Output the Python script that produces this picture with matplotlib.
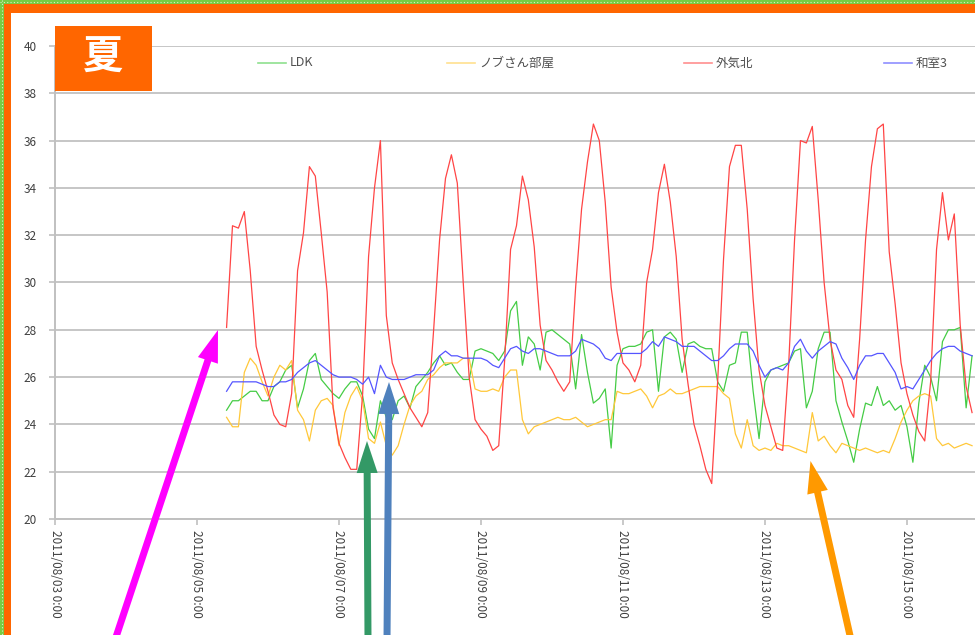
import numpy as np
import matplotlib
matplotlib.use('Agg')
import matplotlib.pyplot as plt
import matplotlib.dates as mdates
from matplotlib.patches import Rectangle, FancyArrow
from matplotlib.lines import Line2D
from matplotlib.ticker import FuncFormatter

plt.rcParams['font.family'] = ['Noto Sans CJK JP', 'DejaVu Sans']

# ---------------- data (2-hourly readings from 2011/08/05 10:00) ----------------
series_names = ['LDK', 'ノブさん部屋', '外気北', '和室3']
start_time = np.datetime64('2011-08-05T10:00')
step_hours = 2

ldk = [24.6, 25.0, 25.0, 25.2, 25.4, 25.4, 25.0,
       25.0, 25.6, 25.8, 26.3, 26.5, 24.7, 25.5, 26.7, 27.0, 25.9, 25.6, 25.3,
       25.1, 25.5, 25.8, 25.8, 25.2, 23.8, 23.4, 25.0, 24.3, 24.2, 25.0, 25.2,
       24.7, 25.6, 25.9, 26.2, 26.6, 26.9, 26.5, 26.6, 26.2, 25.9, 25.9, 27.1,
       27.2, 27.1, 27.0, 26.7, 27.1, 28.8, 29.2, 26.5, 27.7, 27.4, 26.3, 27.9,
       28.0, 27.8, 27.6, 27.4, 25.5, 27.8, 26.2, 24.9, 25.1, 25.5, 23.0, 26.5,
       27.2, 27.3, 27.3, 27.4, 27.9, 28.0, 25.4, 27.7, 27.9, 27.6, 26.2, 27.4,
       27.5, 27.3, 27.2, 27.2, 25.8, 25.4, 26.5, 26.6, 27.9, 27.9, 25.4, 23.4,
       25.8, 26.3, 26.4, 26.5, 26.6, 27.1, 27.2, 24.7, 25.4, 27.2, 27.9, 27.9,
       25.0, 24.1, 23.3, 22.4, 23.8, 24.9, 24.8, 25.6, 24.8, 25.0, 24.6, 24.8,
       23.9, 22.4, 24.9, 26.5, 26.0, 25.0, 27.5, 28.0, 28.0, 28.1, 24.7, 26.9]

nobu = [24.3, 23.9, 23.9, 26.2, 26.8, 26.5, 25.8,
        25.2, 26.0, 26.5, 26.3, 26.7, 24.6, 24.2, 23.3, 24.6, 25.0, 25.1, 24.8,
        23.1, 24.5, 25.2, 25.6, 25.0, 23.4, 23.2, 24.1, 23.1, 22.7, 23.1, 24.0,
        24.8, 25.2, 25.4, 25.9, 26.1, 26.4, 26.6, 26.6, 26.6, 26.8, 26.8, 25.5,
        25.4, 25.4, 25.5, 25.4, 26.0, 26.3, 26.3, 24.2, 23.6, 23.9, 24.0, 24.1,
        24.2, 24.3, 24.2, 24.2, 24.3, 24.1, 23.9, 24.0, 24.1, 24.2, 24.2, 25.4,
        25.3, 25.3, 25.4, 25.5, 25.2, 24.7, 25.2, 25.3, 25.5, 25.3, 25.3, 25.4,
        25.5, 25.6, 25.6, 25.6, 25.6, 25.3, 25.1, 23.6, 23.0, 24.2, 23.1, 22.9,
        23.0, 22.9, 23.2, 23.1, 23.1, 23.0, 22.9, 22.8, 24.5, 23.3, 23.5, 23.1,
        22.8, 23.2, 23.1, 23.0, 22.9, 23.0, 22.9, 22.8, 22.9, 22.8, 23.4, 24.1,
        24.6, 25.0, 25.2, 25.3, 25.2, 23.4, 23.1, 23.2, 23.0, 23.1, 23.2, 23.1]

gaiki = [28.1, 32.4, 32.3, 33.0, 30.5, 27.3, 26.3,
         25.4, 24.4, 24.0, 23.9, 25.3, 30.5, 32.1, 34.9, 34.5, 32.1, 29.6, 24.7,
         23.2, 22.6, 22.1, 22.1, 25.3, 31.1, 34.0, 36.0, 28.6, 26.6, 25.9, 25.3,
         24.7, 24.3, 23.9, 24.5, 28.0, 31.8, 34.4, 35.4, 34.2, 30.0, 26.0, 24.2,
         23.8, 23.5, 22.9, 23.1, 26.7, 31.4, 32.4, 34.5, 33.5, 31.5, 28.2, 26.7,
         26.3, 25.8, 25.4, 25.8, 29.8, 33.1, 35.1, 36.7, 36.0, 33.4, 29.8, 27.9,
         26.6, 26.3, 25.8, 26.5, 30.0, 31.4, 33.8, 35.0, 33.4, 31.1, 27.6, 25.7,
         24.0, 23.1, 22.1, 21.5, 25.8, 31.0, 34.9, 35.8, 35.8, 33.1, 29.3, 26.3,
         24.8, 23.9, 23.0, 22.9, 26.5, 31.8, 36.0, 35.9, 36.6, 33.5, 30.0, 27.6,
         26.3, 25.9, 24.8, 24.3, 27.6, 31.8, 34.9, 36.5, 36.7, 31.3, 29.1, 26.6,
         25.3, 24.4, 23.7, 23.3, 25.8, 31.4, 33.8, 31.8, 32.9, 28.2, 25.6, 24.5]

washitsu = [25.4, 25.8, 25.8, 25.8, 25.8, 25.8, 25.7,
            25.6, 25.6, 25.8, 25.8, 25.9, 26.2, 26.4, 26.6, 26.7, 26.5, 26.3, 26.1,
            26.0, 26.0, 26.0, 25.9, 25.7, 26.0, 25.3, 26.5, 26.0, 25.9, 25.9, 25.9,
            26.0, 26.1, 26.1, 26.1, 26.3, 26.9, 27.1, 26.9, 26.9, 26.8, 26.8, 26.8,
            26.8, 26.7, 26.5, 26.4, 26.8, 27.2, 27.3, 27.1, 27.0, 27.2, 27.2, 27.1,
            27.0, 26.9, 26.9, 26.9, 27.1, 27.6, 27.5, 27.4, 27.2, 26.8, 26.7, 27.0,
            27.0, 27.0, 27.0, 27.0, 27.2, 27.5, 27.3, 27.7, 27.6, 27.5, 27.3, 27.3,
            27.3, 27.1, 26.9, 26.7, 26.7, 26.9, 27.2, 27.4, 27.4, 27.4, 27.1, 26.5,
            26.0, 26.3, 26.4, 26.3, 26.6, 27.3, 27.6, 27.1, 26.8, 27.1, 27.3, 27.5,
            27.4, 26.8, 26.4, 25.9, 26.5, 26.9, 26.9, 27.0, 27.0, 26.6, 26.2, 25.5,
            25.6, 25.5, 25.9, 26.3, 26.7, 27.0, 27.2, 27.3, 27.3, 27.1, 27.0, 26.9]

y_ticks = [20, 22, 24, 26, 28, 30, 32, 34, 36, 38, 40]
x_start = np.datetime64('2011-08-03T00:00')
x_end = np.datetime64('2011-08-15T23:00')
tick_step_days = 2

series_colors = ['#45cc45', '#ffc83a', '#ff4545', '#5555ff']
legend_colors = ['#8fe08f', '#ffe08f', '#ff8f8f', '#8f8fff']

# ---------------- figure ----------------
W, H = 975, 635
fig = plt.figure(figsize=(W / 100, H / 100), dpi=100)
fig.patch.set_facecolor('white')
ax = fig.add_axes([55 / W, (H - 519) / H, (W - 55) / W, (519 - 46) / H])

times = start_time + np.arange(len(ldk)) * np.timedelta64(step_hours, 'h')
for vals, col in zip([ldk, nobu, gaiki, washitsu], series_colors):
    ax.plot(times, vals, color=col, lw=0.9, solid_joinstyle='round')

ax.set_ylim(20, 40)
ax.set_yticks(y_ticks)
ax.set_xlim(x_start, x_end)
ax.set_xticks(np.arange(x_start, x_end, np.timedelta64(tick_step_days, 'D')))


def fmt_date(x, pos=None):
    d = mdates.num2date(x)
    return f"{d:%Y/%m/%d} {d.hour}:{d:%M}"


ax.xaxis.set_major_formatter(FuncFormatter(fmt_date))

ax.yaxis.grid(True, color='#c6c6c6', lw=1.4)
ax.set_axisbelow(True)
for s in ['top', 'right']:
    ax.spines[s].set_visible(False)
for s in ['left', 'bottom']:
    ax.spines[s].set_color('#c0c0c0')
    ax.spines[s].set_linewidth(1.4)
ax.tick_params(axis='both', direction='out', length=4, width=1.2, color='#c0c0c0',
               labelsize=8.5, labelcolor='#404040')
ax.tick_params(axis='y', pad=9)
ax.tick_params(axis='x', pad=4)
for lab in ax.get_xticklabels():
    lab.set_rotation(-90)
    lab.set_va('top')
    lab.set_ha('center')

# ---------------- overlay (pixel coordinates) ----------------
ov = fig.add_axes([0, 0, 1, 1], zorder=10)
ov.set_xlim(0, W)
ov.set_ylim(H, 0)
ov.axis('off')
ov.patch.set_alpha(0)

# legend
leg_y = 63
leg_handles = [(258, 286), (447, 475), (684, 712), (884, 912)]
for (x0, x1), name, col in zip(leg_handles, series_names, legend_colors):
    ov.add_line(Line2D([x0, x1], [leg_y, leg_y], color=col, lw=1.2))
    ov.text(x1 + 4, leg_y, name, fontsize=9, color='#505050', va='center', ha='left')

# badge
ov.add_patch(Rectangle((55, 26), 97, 65, facecolor='#ff6600', edgecolor='none'))
ov.text(103.5, 58.5, '夏', fontsize=29, color='white', fontweight='bold',
        ha='center', va='center')

# border
ov.add_patch(Rectangle((0, 0), W, 4, facecolor='#78cc44', edgecolor='none'))
ov.add_patch(Rectangle((0, 0), 3.5, H, facecolor='#78cc44', edgecolor='none'))
ov.add_line(Line2D([0, W], [2, 2], color='white', lw=0.8, ls=(0, (1, 2)), alpha=0.7))
ov.add_line(Line2D([1.7, 1.7], [0, H], color='white', lw=0.8, ls=(0, (1, 2)), alpha=0.7))
ov.add_patch(Rectangle((3.5, 4), W, 8.5, facecolor='#ff6600', edgecolor='none'))
ov.add_patch(Rectangle((3.5, 4), 7, H, facecolor='#ff6600', edgecolor='none'))

# arrows
arrows = [
    ((115, 640), (218, 330), '#ff00ff'),
    ((368, 640), (367, 441), '#339966'),
    ((387, 640), (389, 382), '#4f81bd'),
    ((851, 640), (810.5, 461), '#ff9900'),
]
for (x0, y0), (x1, y1), col in arrows:
    ov.add_patch(FancyArrow(x0, y0, x1 - x0, y1 - y0, width=7, head_width=21,
                            head_length=32, length_includes_head=True,
                            facecolor=col, edgecolor='none'))

fig.savefig('out.png', dpi=100)
